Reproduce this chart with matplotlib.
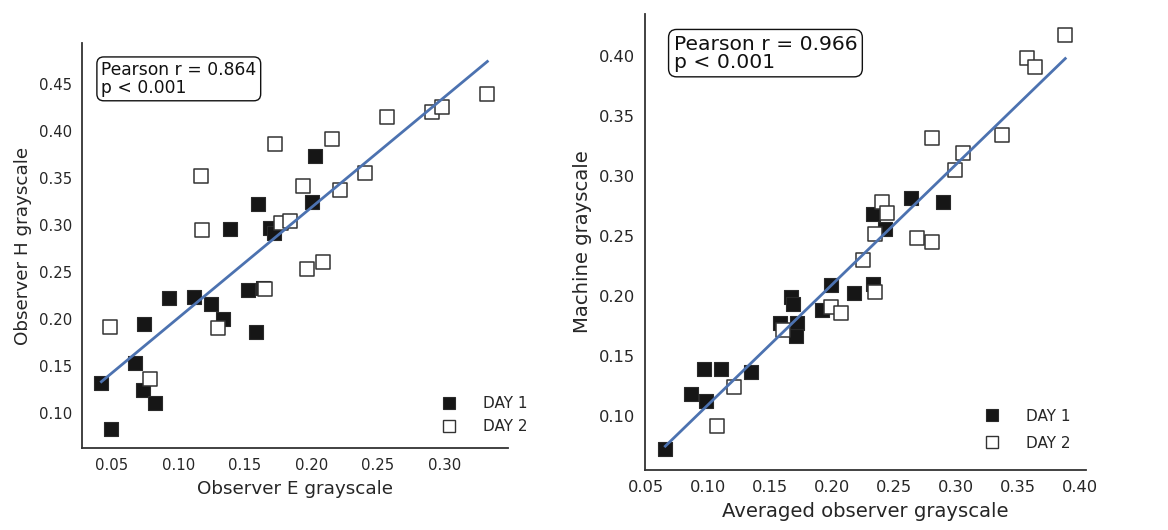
import numpy as np
import matplotlib
matplotlib.use("Agg")
import matplotlib.pyplot as plt
from matplotlib.lines import Line2D

# ---------------- data: left panel (Observer E vs Observer H) ----------------
left_day1_x = [0.2026, 0.160, 0.2004, 0.1385, 0.1688, 0.1718, 0.0926, 0.1119, 0.1244,
               0.1525, 0.1638, 0.1335, 0.158, 0.0738, 0.0671, 0.042, 0.0731, 0.0826, 0.0495]
left_day1_y = [0.3737, 0.323, 0.325, 0.2958, 0.2965, 0.292, 0.2226, 0.224, 0.2159,
               0.2308, 0.2333, 0.2002, 0.1864, 0.1949, 0.1533, 0.1317, 0.1249, 0.1107, 0.0826]
left_day2_x = [0.3325, 0.2906, 0.298, 0.2568, 0.2157, 0.173, 0.117, 0.2407, 0.1936, 0.2217,
               0.118, 0.177, 0.1838, 0.1966, 0.2086, 0.1648, 0.0485, 0.130, 0.0783]
left_day2_y = [0.440, 0.421, 0.426, 0.415, 0.392, 0.386, 0.352, 0.356, 0.342, 0.337,
               0.295, 0.302, 0.304, 0.253, 0.2607, 0.232, 0.192, 0.1906, 0.1366]
left_r_text = "Pearson r = 0.864\np < 0.001"

# ---------------- data: right panel (Averaged observer vs Machine) ----------------
right_day1_x = [0.2635, 0.2896, 0.2334, 0.2426, 0.1993, 0.2329, 0.2178, 0.1673, 0.1685,
                0.1923, 0.1582, 0.1719, 0.1709, 0.0967, 0.1104, 0.1346, 0.0865, 0.0989, 0.0658]
right_day1_y = [0.2813, 0.2785, 0.2685, 0.256, 0.2093, 0.2098, 0.2026, 0.199, 0.1929,
                0.1882, 0.1771, 0.1771, 0.1667, 0.1387, 0.1392, 0.1364, 0.1183, 0.1123, 0.0722]
right_day2_x = [0.3881, 0.3575, 0.3635, 0.3373, 0.2807, 0.3054, 0.2995, 0.2402, 0.2447,
                0.235, 0.2689, 0.281, 0.2249, 0.2348, 0.1993, 0.2076, 0.1609, 0.1209, 0.1072]
right_day2_y = [0.4173, 0.3983, 0.3908, 0.3344, 0.3319, 0.3189, 0.3047, 0.2785, 0.2688,
                0.2518, 0.248, 0.2446, 0.2296, 0.2034, 0.1907, 0.1857, 0.1715, 0.1242, 0.0917]
right_r_text = "Pearson r = 0.966\np < 0.001"

legend_labels = ["DAY 1", "DAY 2"]

TXT = "#262626"
LINE = "#4c72b0"

fig = plt.figure(figsize=(11.68, 5.30), dpi=100)
axL = fig.add_axes([0.0702, 0.1547, 0.3647, 0.7642])
axR = fig.add_axes([0.5522, 0.1132, 0.3776, 0.8604])


def panel(ax, x1, y1, x2, y2, rtext, xlabel, ylabel, xlim, ylim, xticks, yticks,
          tick_fs, label_fs, box_fs, box_xy, leg_anchor, leg_spacing):
    ax.scatter(x1, y1, marker="s", s=95, c="#161616", edgecolors="#2a2a2a",
               linewidths=0.8, zorder=3)
    ax.scatter(x2, y2, marker="s", s=95, c="white", edgecolors="#333333",
               linewidths=1.1, zorder=3)
    xa = np.array(x1 + x2)
    ya = np.array(y1 + y2)
    k, b = np.polyfit(xa, ya, 1)
    xs = np.array([xa.min(), xa.max()])
    ax.plot(xs, k * xs + b, color=LINE, lw=2.0, zorder=4)
    ax.set_xlim(*xlim)
    ax.set_ylim(*ylim)
    ax.set_xticks(xticks)
    ax.set_yticks(yticks)
    ax.set_xticklabels([f"{t:.2f}" for t in xticks])
    ax.set_yticklabels([f"{t:.2f}" for t in yticks])
    ax.tick_params(length=0, labelsize=tick_fs, colors=TXT, pad=7)
    for s in ["top", "right"]:
        ax.spines[s].set_visible(False)
    for s in ["left", "bottom"]:
        ax.spines[s].set_color("#333333")
        ax.spines[s].set_linewidth(1.3)
    ax.set_xlabel(xlabel, fontsize=label_fs, color=TXT, labelpad=5)
    ax.set_ylabel(ylabel, fontsize=label_fs, color=TXT, labelpad=5)
    ax.text(box_xy[0], box_xy[1], rtext, transform=ax.transAxes, fontsize=box_fs,
            va="top", ha="left", color="#111111", linespacing=0.95,
            bbox=dict(boxstyle="round,pad=0.25,rounding_size=0.4", fc="white",
                      ec="#111111", lw=1.0))
    handles = [
        Line2D([], [], marker="s", ls="none", ms=8, mfc="#161616", mec="#2a2a2a", mew=0.8),
        Line2D([], [], marker="s", ls="none", ms=8, mfc="white", mec="#333333", mew=1.0),
    ]
    leg = ax.legend(handles, legend_labels, loc="lower right", bbox_to_anchor=leg_anchor,
                    frameon=False, fontsize=11, handletextpad=1.2,
                    labelspacing=leg_spacing)
    for t in leg.get_texts():
        t.set_color(TXT)


panel(axL, left_day1_x, left_day1_y, left_day2_x, left_day2_y, left_r_text,
      "Observer E grayscale", "Observer H grayscale",
      (0.0274, 0.348), (0.0627, 0.494),
      [0.05, 0.10, 0.15, 0.20, 0.25, 0.30],
      [0.10, 0.15, 0.20, 0.25, 0.30, 0.35, 0.40, 0.45],
      10.7, 13.2, 12.3, (0.045, 0.955), (1.077, 0.0), 0.55)

panel(axR, right_day1_x, right_day1_y, right_day2_x, right_day2_y, right_r_text,
      "Averaged observer grayscale", "Machine grayscale",
      (0.0494, 0.4048), (0.0547, 0.435),
      [0.05, 0.10, 0.15, 0.20, 0.25, 0.30, 0.35, 0.40],
      [0.10, 0.15, 0.20, 0.25, 0.30, 0.35, 0.40],
      11.7, 14.1, 14.6, (0.065, 0.955), (0.995, 0.012), 0.8)

fig.savefig("out.png", dpi=100, facecolor="white")
